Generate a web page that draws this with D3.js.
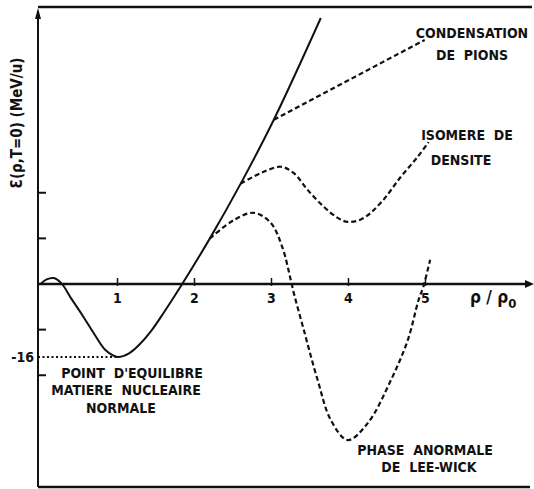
<!DOCTYPE html>
<html>
<head>
<meta charset="utf-8">
<script src="https://cdnjs.cloudflare.com/ajax/libs/d3/7.8.5/d3.min.js"></script>
<style>
body { margin: 0; background: #fff; }
svg { display: block; background: #fff; }
text { font-family: "Liberation Sans Narrow", "DejaVu Sans Condensed", sans-serif; font-weight: bold; fill: #111; }
</style>
</head>
<body>
<svg width="534" height="489"></svg>
<script>
// tick values
var xTicks = [1, 2, 3, 4, 5];
var yTicks = [-20, -10, 10, 20];

// normal nuclear matter point
var eqRho = 1, eqE = -16;

// solid curve (normal matter)
var solidRho = [0, 0.08, 0.17, 0.27, 0.4, 0.55, 0.7, 0.85, 1.0, 1.15, 1.3, 1.45, 1.6, 1.84, 2.2, 2.6, 3.03, 3.64];
var solidE   = [0, 1.0, 1.3, 0.2, -3.2, -7.0, -11.0, -14.6, -16, -15.2, -13.0, -10.0, -6.3, 0, 10, 22, 36, 58.3];

// pion condensation branch
var pionRho = [3.03, 4.99];
var pionE   = [36, 53.5];

// density isomer branch
var isoRho = [2.6, 2.86, 3.12, 3.29, 3.47, 3.68, 3.86, 3.99, 4.18, 4.42, 4.68, 4.9, 5.04];
var isoE   = [22, 24.3, 25.7, 24.3, 20.6, 16.9, 14.5, 13.6, 14.3, 17.8, 23.5, 27.9, 31.1];

// Lee-Wick branch
var lwRho = [2.2, 2.51, 2.77, 2.99, 3.14, 3.25, 3.29, 3.42, 3.6, 3.77, 3.99, 4.25, 4.55, 4.77, 4.91, 4.97, 5.06];
var lwE   = [10, 14.0, 15.6, 13.4, 8.1, 0.9, -2.0, -10.1, -21.1, -29.8, -34.2, -30.5, -21.1, -12.3, -3.5, -0.7, 5.3];

var svg = d3.select("svg");
var frameLeft = 38, frameTop = 7, frameBottom = 487, frameRight = 532;

var x = d3.scaleLinear().domain([0, 5]).range([40.5, 425.5]);
var y = d3.scaleLinear().domain([0, -16]).range([284, 357]);

function zip(a, b) { return a.map(function(d, i) { return [d, b[i]]; }); }

var line = d3.line()
    .x(function(d) { return x(d[0]); })
    .y(function(d) { return y(d[1]); })
    .curve(d3.curveCatmullRom.alpha(0.5));

// frame
svg.append("line")
    .attr("x1", frameLeft).attr("x2", frameRight)
    .attr("y1", frameTop).attr("y2", frameTop)
    .attr("stroke", "#111").attr("stroke-width", 2.5);
svg.append("line")
    .attr("x1", frameLeft).attr("x2", 530)
    .attr("y1", frameBottom).attr("y2", frameBottom)
    .attr("stroke", "#111").attr("stroke-width", 2.5);
svg.append("line")
    .attr("x1", frameLeft).attr("x2", frameLeft)
    .attr("y1", frameBottom).attr("y2", frameTop + 4)
    .attr("stroke", "#111").attr("stroke-width", 2);
// up arrow
svg.append("path")
    .attr("d", "M" + frameLeft + "," + (frameTop + 1) + " l-3,11 l6,0 z")
    .attr("fill", "#111");

// x axis at E = 0
var y0 = y(0);
svg.append("line")
    .attr("x1", frameLeft).attr("x2", 526)
    .attr("y1", y0).attr("y2", y0)
    .attr("stroke", "#111").attr("stroke-width", 2.5);
svg.append("path")
    .attr("d", "M534," + y0 + " l-9,-4 l0,8 z")
    .attr("fill", "#111");

svg.selectAll(".xtick").data(xTicks).enter().append("line")
    .attr("class", "xtick")
    .attr("x1", function(d) { return x(d); }).attr("x2", function(d) { return x(d); })
    .attr("y1", y0 - 6).attr("y2", y0 + 2)
    .attr("stroke", "#111").attr("stroke-width", 1.5);
svg.selectAll(".xlab").data(xTicks).enter().append("text")
    .attr("class", "xlab")
    .attr("x", function(d) { return x(d); })
    .attr("y", y0 + 19)
    .attr("text-anchor", "middle")
    .style("font-size", "14px")
    .text(function(d) { return d; });

svg.selectAll(".ytick").data(yTicks).enter().append("line")
    .attr("class", "ytick")
    .attr("x1", frameLeft).attr("x2", frameLeft + 8)
    .attr("y1", function(d) { return y(d); }).attr("y2", function(d) { return y(d); })
    .attr("stroke", "#111").attr("stroke-width", 2);

// axis titles
var xt = svg.append("text")
    .attr("x", 470).attr("y", y0 + 19)
    .style("font-size", "17px");
xt.append("tspan").text("\u03c1 / \u03c1");
xt.append("tspan").attr("dy", 5).style("font-size", "13px").text("0");

svg.append("text")
    .attr("transform", "translate(22,123) rotate(-90)")
    .attr("text-anchor", "middle")
    .style("font-size", "15px")
    .text("\u0190(\u03c1,T=0) (MeV/u)");

// equilibrium point
svg.append("line")
    .attr("x1", frameLeft).attr("x2", x(eqRho))
    .attr("y1", y(eqE)).attr("y2", y(eqE))
    .attr("stroke", "#111").attr("stroke-width", 2)
    .attr("stroke-dasharray", "2,2.5");
svg.append("text")
    .attr("x", 34).attr("y", y(eqE) + 5)
    .attr("text-anchor", "end")
    .style("font-size", "14px")
    .text("-16");

// curves
svg.append("path")
    .datum(zip(solidRho, solidE))
    .attr("d", line)
    .attr("fill", "none").attr("stroke", "#111").attr("stroke-width", 2);

[[pionRho, pionE], [isoRho, isoE], [lwRho, lwE]].forEach(function(s) {
    svg.append("path")
        .datum(zip(s[0], s[1]))
        .attr("d", line)
        .attr("fill", "none").attr("stroke", "#111").attr("stroke-width", 2.2)
        .attr("stroke-dasharray", "5,3");
});

// annotations
var notes = [
    {t: "CONDENSATION", x: 472, y: 38},
    {t: "DE  PIONS", x: 472, y: 60},
    {t: "ISOMERE  DE", x: 467, y: 140},
    {t: "DENSITE", x: 461, y: 165},
    {t: "POINT  D'EQUILIBRE", x: 132, y: 378},
    {t: "MATIERE  NUCLEAIRE", x: 126, y: 395},
    {t: "NORMALE", x: 121, y: 413},
    {t: "PHASE  ANORMALE", x: 425, y: 455},
    {t: "DE  LEE-WICK", x: 429, y: 472}
];
svg.selectAll(".note").data(notes).enter().append("text")
    .attr("class", "note")
    .attr("x", function(d) { return d.x; })
    .attr("y", function(d) { return d.y; })
    .attr("text-anchor", "middle")
    .style("font-size", "14px")
    .style("white-space", "pre")
    .text(function(d) { return d.t; });
</script>
</body>
</html>
